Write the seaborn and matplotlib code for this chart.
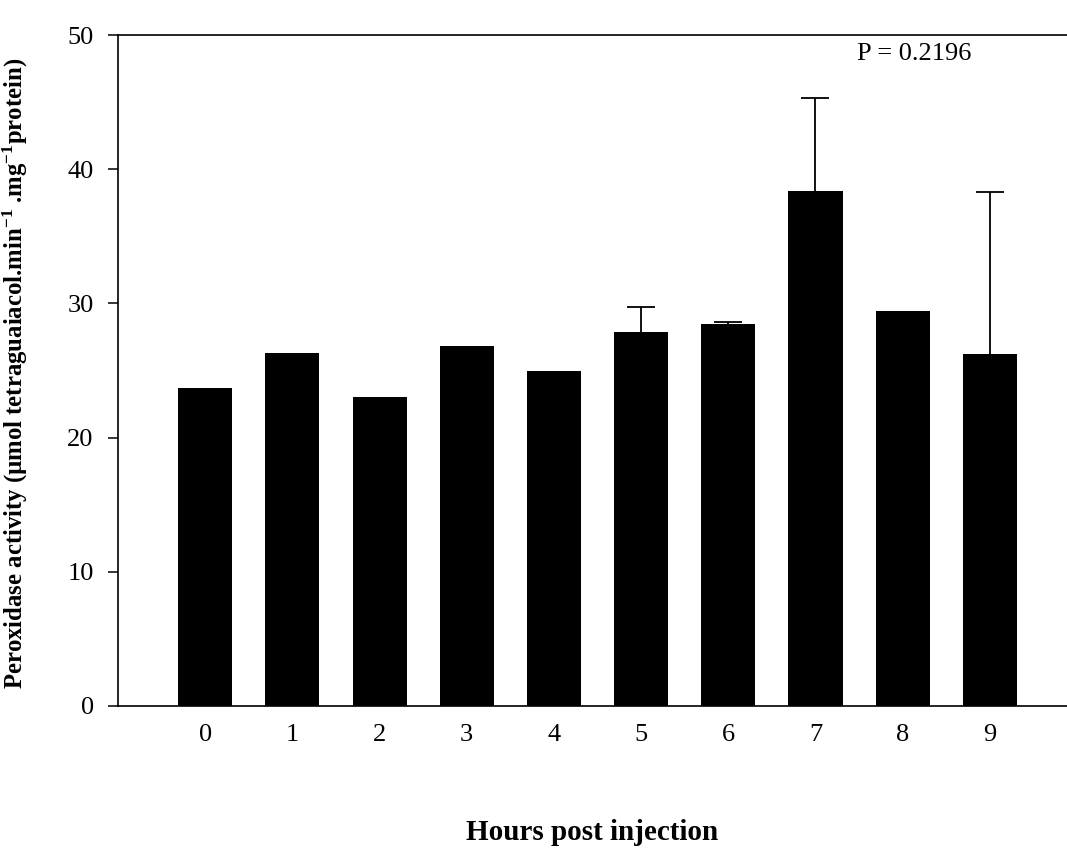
import numpy as np
import pandas as pd
import matplotlib
matplotlib.use("Agg")
import matplotlib.pyplot as plt
import seaborn as sns

# Peroxidase activity by hour after injection (mean with upper SE)
hours = ["0", "1", "2", "3", "4", "5", "6", "7", "8", "9"]
activity = [23.7, 26.3, 23.0, 26.8, 25.0, 27.85, 28.45, 38.35, 29.45, 26.25]
upper_err = [0.0, 0.0, 0.0, 0.0, 0.0, 1.9, 0.15, 6.95, 0.0, 12.05]
p_label = "P = 0.2196"
y_ticks = [0, 10, 20, 30, 40, 50]

sns.set_theme(style="white")
plt.rcParams["font.family"] = ["Liberation Serif", "DejaVu Serif"]
plt.rcParams["mathtext.fontset"] = "custom"
plt.rcParams["mathtext.rm"] = "Liberation Serif"
plt.rcParams["mathtext.bf"] = "Liberation Serif:bold"
plt.rcParams["mathtext.default"] = "bf"
plt.rcParams["text.color"] = "black"
plt.rcParams["axes.labelcolor"] = "black"

df = pd.DataFrame({"hour": hours, "activity": activity})

fig = plt.figure(figsize=(10.67, 8.58), dpi=100)
ax = fig.add_axes([118 / 1067, 1 - 706 / 858, 1 - 118 / 1067, (706 - 35) / 858])

sns.barplot(data=df, x="hour", y="activity", color="black", width=0.62,
            linewidth=0, saturation=1, errorbar=None, ax=ax)

# upward-only error bars where a spread is reported
err = np.array(upper_err)
pos = np.arange(len(hours))
mask = err > 0
eb = ax.errorbar(pos[mask], np.array(activity)[mask],
                 yerr=[np.zeros(mask.sum()), err[mask]],
                 fmt="none", ecolor="black", elinewidth=1.3, capsize=10, capthick=1.3)
eb[1][0].set_visible(False)  # no cap at the bar top

ax.set_xlim(-1.0, 9.885)
ax.set_ylim(0, 50)
ax.set_yticks(y_ticks)

for side in ["left", "bottom", "top"]:
    ax.spines[side].set_visible(True)
    ax.spines[side].set_color("black")
    ax.spines[side].set_linewidth(1.2)
ax.spines["right"].set_visible(False)

ax.tick_params(axis="y", direction="out", length=7.5, width=1.1, pad=10,
               labelsize=19, left=True, colors="black")
ax.tick_params(axis="x", length=0, pad=13, labelsize=19, colors="black")

ax.text(8.13, 48.6, p_label, ha="center", va="center", fontsize=19)

ax.set_xlabel("Hours post injection", fontsize=21, fontweight="bold")
ax.xaxis.set_label_coords(0.5, -0.189)
ax.xaxis.label.set_va("center")

ax.set_ylabel(r"Peroxidase activity (µmol tetraguaiacol.min$^{-1}$ .mg$^{-1}$protein)",
              fontsize=17.8, fontweight="bold")
ax.yaxis.set_label_coords(-0.1085, 0.495)
ax.yaxis.label.set_va("center")

fig.savefig("out.png", dpi=100, facecolor="white")
